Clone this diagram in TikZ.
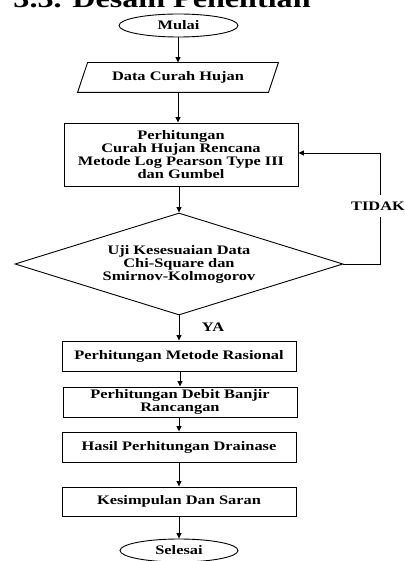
\documentclass[tikz,border=0pt]{standalone}
\usepackage{fontspec}
\setmainfont{Liberation Serif}[FakeStretch=1.26]
\usetikzlibrary{shapes.geometric,arrows.meta}
\begin{document}
\begin{tikzpicture}[x=1pt,y=-1pt,
  base/.style={font=\bfseries\fontsize{13}{13}\selectfont, align=center, inner sep=0pt},
  proc/.style={base, draw, rectangle, minimum width=234pt},
  term/.style={base, draw, ellipse, minimum width=119pt, minimum height=23pt},
  lbl/.style={base, fill=white},
  arr/.style={-{Triangle[length=5.5pt,width=5pt]}},
  line width=0.9pt]
\useasboundingbox (0,0) rectangle (404,561);
\clip (0,0) rectangle (404,561);
\node[base, anchor=base west, font=\bfseries\fontsize{25.5}{28}\selectfont] (title) at (13,7.5) {3.3. Desain Penelitian};

\node[term] (mulai) at (178.5,25.5) {Mulai};
\node[base, minimum width=190pt, minimum height=29pt] (data) at (178,77.5) {Data Curah Hujan};
\draw ([xshift=-5pt]data.south west) -- ([xshift=5pt]data.north west) -- ([xshift=5pt]data.north east) -- ([xshift=-5pt]data.south east) -- cycle;
\node[proc, minimum height=63pt] (hitung) at (181,154.5) {Perhitungan\\Curah Hujan Rencana\\Metode Log Pearson Type III\\dan Gumbel};
\node[base, draw, diamond, aspect=3.2, minimum width=328pt, minimum height=102pt] (uji) at (179,264) {Uji Kesesuaian Data\\Chi-Square dan\\Smirnov-Kolmogorov};
\node[proc, minimum height=30pt] (rasional) at (179,356) {Perhitungan Metode Rasional};
\node[proc, minimum height=30pt] (debit) at (180,402) {Perhitungan Debit Banjir\\Rancangan};
\node[proc, minimum height=30pt] (hasil) at (179,447) {Hasil Perhitungan Drainase};
\node[proc, minimum height=29pt] (simpul) at (179,501.5) {Kesimpulan Dan Saran};
\node[term, minimum width=118pt] (selesai) at (179,550.5) {Selesai};

\draw[arr] (mulai.south -| data.north) -- (data.north);
\draw[arr] (data.south) -- (data.south |- hitung.north);
\draw[arr] (hitung.south -| uji.north) -- (uji.north);
\draw[arr] (uji.south) -- (rasional.north);
\draw[arr] (rasional.south -| debit.north) -- (debit.north);
\draw[arr] (debit.south -| hasil.north) -- (hasil.north);
\draw[arr] (hasil.south) -- (simpul.north);
\draw[arr] (simpul.south) -- (selesai.north);

\coordinate (fbA) at (380,264);
\coordinate (fbB) at (380,153);
\draw[arr] (uji.east) -- (fbA) -- (fbB) -- (fbB -| hitung.east);
\node[lbl, inner xsep=1pt, inner ysep=7pt] (tidak) at (378,206) {TIDAK};
\node[lbl] (ya) at (213,327) {YA};
\end{tikzpicture}
\end{document}
